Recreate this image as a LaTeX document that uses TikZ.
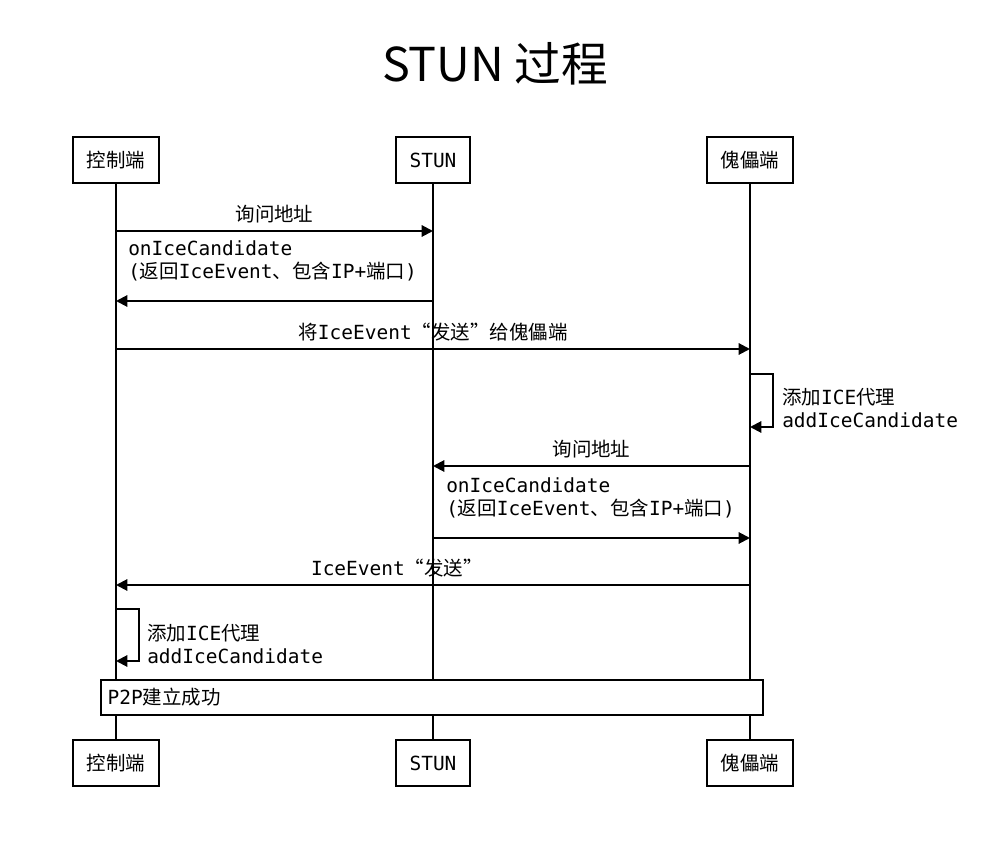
\documentclass[tikz,border=0pt]{standalone}
\usepackage{fontspec}
\setmonofont{DejaVu Sans Mono}
\newfontfamily\cjk{Noto Sans CJK SC}
\usetikzlibrary{positioning,arrows.meta}

\begin{document}
\begin{tikzpicture}[
        x=0.75pt,
        y=-0.75pt,
        font=\ttfamily\fontsize{14.6}{17}\selectfont,
        actor/.style={
                rectangle,
                draw=black,
                fill=white,
                line width=1.5pt,
                minimum height=34.5pt,
                inner xsep=10pt
            },
        note/.style={
                rectangle,
                draw=black,
                fill=white,
                line width=1.5pt,
                minimum height=26pt,
                inner xsep=5.2pt,
                text width=486.6pt,
                align=left
            },
        life/.style={line width=1.5pt},
        msg/.style={line width=1.5pt, ->},
        lbl/.style={inner sep=0pt, align=left},
        >={Triangle[length=8.5pt,width=8.5pt]}
    ]
    \useasboundingbox (0,0) rectangle (986,841);

    \node[font=\cjk\fontsize{35}{40}\selectfont] (Title) at (495,64) {STUN 过程};

    \node[actor] (CtrlTop) at (116,160) {{\cjk 控制端}};
    \node[actor] (StunTop) at (433,160) {STUN};
    \node[actor] (PuppetTop) at (750,160) {{\cjk 傀儡端}};
    \node[actor] (CtrlBot) at (116,763) {{\cjk 控制端}};
    \node[actor] (StunBot) at (433,763) {STUN};
    \node[actor] (PuppetBot) at (750,763) {{\cjk 傀儡端}};

    \draw[life] (CtrlTop) -- (CtrlBot);
    \draw[life] (StunTop) -- (StunBot);
    \draw[life] (PuppetTop) -- (PuppetBot);

    % points on the lifelines, one row per message
    \foreach \r/\y in {a/231,b/301,c/349,d/374,e/427,f/466,g/538,h/585,i/609,j/661} {
        \coordinate (C\r) at (116,\y);
        \coordinate (S\r) at (433,\y);
        \coordinate (P\r) at (750,\y);
    }

    \draw[msg] (Ca) -- node[above=5pt, lbl] {{\cjk 询问地址}} (Sa);
    \node[lbl, anchor=west] (Reply1) at (128,261) {onIceCandidate\\({\cjk 返回}IceEvent{\cjk 、包含}IP+{\cjk 端口})};
    \draw[msg] (Sb) -- (Cb);
    \draw[msg] (Cc) -- node[above=5pt, lbl] {{\cjk 将}IceEvent{\cjk “发送”给傀儡端}} (Pc);
    \draw[msg] (Pd) -- ++(23,0) |- (Pe);
    \node[lbl, anchor=west] (Add1) at (782,408) {{\cjk 添加}ICE{\cjk 代理}\\addIceCandidate};
    \draw[msg] (Pf) -- node[above=5pt, lbl] {{\cjk 询问地址}} (Sf);
    \node[lbl, anchor=west] (Reply2) at (446,498) {onIceCandidate\\({\cjk 返回}IceEvent{\cjk 、包含}IP+{\cjk 端口})};
    \draw[msg] (Sg) -- (Pg);
    \draw[msg] (Ph) -- node[pos=0.557, above=5pt, lbl] {IceEvent{\cjk “发送”}} (Ch);
    \draw[msg] (Ci) -- ++(23,0) |- (Cj);
    \node[lbl, anchor=west] (Add2) at (147,644) {{\cjk 添加}ICE{\cjk 代理}\\addIceCandidate};

    \node[note] (Done) at (432,697.5) {P2P{\cjk 建立成功}};
\end{tikzpicture}
\end{document}
